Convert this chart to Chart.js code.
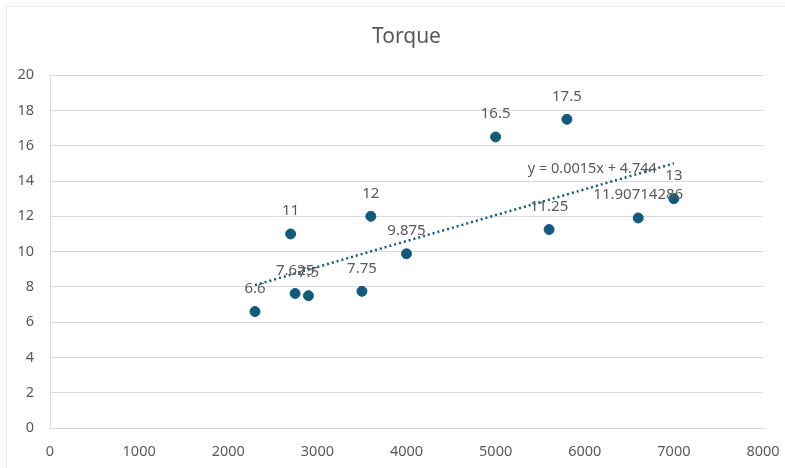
<!DOCTYPE html>
<html>
<head>
<meta charset="utf-8">
<title>Torque</title>
<script src="https://cdn.jsdelivr.net/npm/chart.js@4/dist/chart.umd.min.js"></script>
<style>
  body { margin: 0; background: #fff; }
  .wrap { position: relative; width: 785px; height: 468px; overflow: hidden; }
  .frame { position: absolute; left: 6px; top: 6px; width: 800px; height: 480px; border: 1px solid #ececec; }
  canvas { position: absolute; left: 0; top: 0; }
</style>
</head>
<body>
<div class="wrap">
  <div class="frame"></div>
  <canvas id="torqueChart" width="785" height="468"></canvas>
</div>
<script>
  "use strict";

  // Data
  var speedValues = [2300, 2700, 2750, 2900, 3500, 3600, 4000, 5000, 5600, 5800, 6600, 7000];
  var torqueValues = [6.6, 11, 7.625, 7.5, 7.75, 12, 9.875, 16.5, 11.25, 17.5, 11.90714286, 13];
  var pointLabels = ["6.6", "11", "7.625", "7.5", "7.75", "12", "9.875", "16.5", "11.25", "17.5", "11.90714286", "13"];

  // Linear trendline end points (as drawn) and its label
  var trendX = [2300, 7000];
  var trendY = [8.1, 15.0];
  var trendLabel = "y = 0.0015x + 4.744";

  var xTicks = [0, 1000, 2000, 3000, 4000, 5000, 6000, 7000, 8000];
  var yTicks = [0, 2, 4, 6, 8, 10, 12, 14, 16, 18, 20];

  var markColor = "#125a7c";
  var textColor = "#595959";
  var gridColor = "#d9d9d9";
  var fontFamily = "'Noto Sans', 'Open Sans', sans-serif";

  // Draw value labels above points and the trendline equation
  var labelPlugin = {
    id: "pointLabels",
    afterDatasetsDraw: function (chart) {
      var ctx = chart.ctx;
      ctx.save();
      ctx.font = "15px " + fontFamily;
      ctx.fillStyle = textColor;
      ctx.textAlign = "center";
      ctx.textBaseline = "middle";
      chart.getDatasetMeta(0).data.forEach(function (pt, i) {
        ctx.fillText(pointLabels[i], pt.x, pt.y - 23);
      });

      var trendMeta = chart.getDatasetMeta(1).data;
      var end = trendMeta[trendMeta.length - 1];
      ctx.font = "14.5px " + fontFamily;
      ctx.textAlign = "right";
      ctx.fillText(trendLabel, end.x - 17, end.y + 5);
      ctx.restore();
    },
  };

  var ctx = document.getElementById("torqueChart").getContext("2d");

  new Chart(ctx, {
    type: "scatter",
    data: {
      datasets: [
        {
          label: "Torque",
          data: speedValues.map(function (x, i) {
            return { x: x, y: torqueValues[i] };
          }),
          backgroundColor: markColor,
          borderColor: markColor,
          pointRadius: 5,
          pointHoverRadius: 5,
        },
        {
          label: "Linear (Torque)",
          type: "line",
          data: trendX.map(function (x, i) {
            return { x: x, y: trendY[i] };
          }),
          borderColor: markColor,
          borderWidth: 2.5,
          borderDash: [2, 3],
          pointRadius: 0,
          fill: false,
        },
      ],
    },
    options: {
      responsive: false,
      animation: false,
      layout: { padding: { left: 0, right: 22, top: 0, bottom: 0 } },
      plugins: {
        legend: { display: false },
        tooltip: { enabled: false },
        title: {
          display: true,
          fullSize: false,
          text: "Torque",
          color: textColor,
          font: { family: fontFamily, size: 21, weight: "normal" },
          padding: { top: 24, bottom: 26 },
        },
      },
      scales: {
        x: {
          type: "linear",
          min: 0,
          max: 8000,
          afterBuildTicks: function (scale) {
            scale.ticks = xTicks.map(function (v) { return { value: v }; });
          },
          afterFit: function (scale) { scale.height = 40; },
          grid: { display: false, drawTicks: true, tickLength: 12 },
          border: { display: true, color: gridColor, width: 1 },
          ticks: {
            color: textColor,
            padding: 3,
            maxRotation: 0,
            font: { family: fontFamily, size: 14.5 },
            callback: function (value) { return String(value); },
          },
        },
        y: {
          type: "linear",
          min: 0,
          max: 20,
          afterBuildTicks: function (scale) {
            scale.ticks = yTicks.map(function (v) { return { value: v }; });
          },
          afterFit: function (scale) { scale.width = 50; },
          grid: { color: gridColor, lineWidth: 1, drawTicks: false },
          border: { display: true, color: gridColor, width: 1 },
          ticks: {
            color: textColor,
            padding: 16,
            font: { family: fontFamily, size: 14.5 },
          },
        },
      },
    },
    plugins: [labelPlugin],
  });
</script>
</body>
</html>
